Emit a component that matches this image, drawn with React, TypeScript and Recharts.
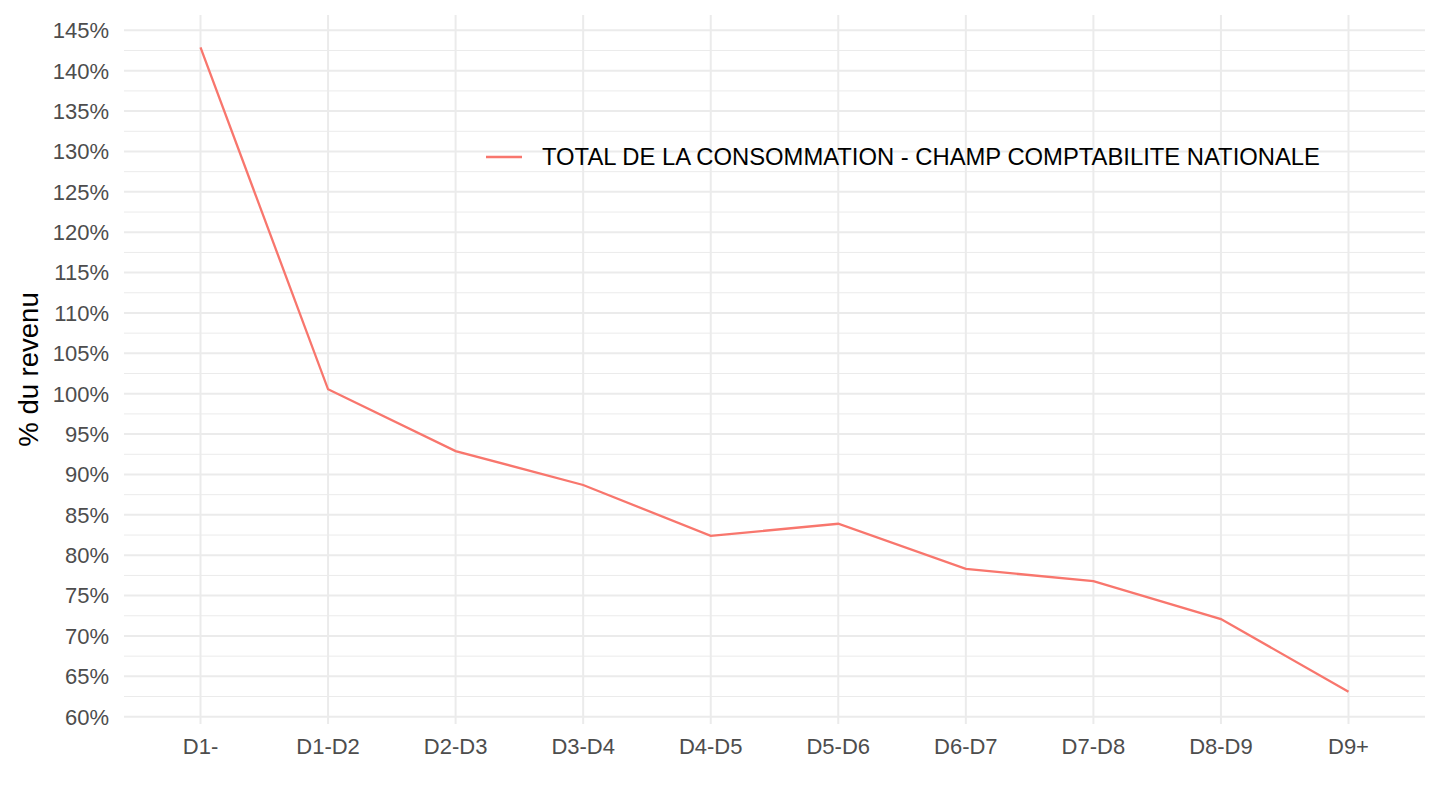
import { CartesianGrid, Legend, Line, LineChart, ReferenceLine, XAxis, YAxis } from "recharts"

const categories = ["D1-", "D1-D2", "D2-D3", "D3-D4", "D4-D5", "D5-D6", "D6-D7", "D7-D8", "D8-D9", "D9+"]
const consommation = [142.9, 100.55, 92.9, 88.7, 82.4, 83.9, 78.3, 76.8, 72.1, 63.1]
const yTicks = [60, 65, 70, 75, 80, 85, 90, 95, 100, 105, 110, 115, 120, 125, 130, 135, 140, 145]
const yMinor = [62.5, 67.5, 72.5, 77.5, 82.5, 87.5, 92.5, 97.5, 102.5, 107.5, 112.5, 117.5, 122.5, 127.5, 132.5, 137.5, 142.5]
const seriesName = "TOTAL DE LA CONSOMMATION - CHAMP COMPTABILITE NATIONALE"

const data = categories.map((c, i) => ({ decile: c, value: consommation[i] }))

const font = "'Liberation Sans', Arial, Helvetica, sans-serif"

function LegendContent(props: any) {
  const items = props.payload || []
  return (
    <div style={{ display: "flex", alignItems: "center", fontFamily: font }}>
      {items.map((it: any) => (
        <div key={it.value} style={{ display: "flex", alignItems: "center" }}>
          <svg width={36} height={4} style={{ marginRight: 20 }}>
            <line x1={0} y1={2} x2={36} y2={2} stroke={it.color} strokeWidth={2.3} />
          </svg>
          <span style={{ fontSize: 23.8, color: "#000", whiteSpace: "nowrap" }}>{it.value}</span>
        </div>
      ))}
    </div>
  )
}

export default function App() {
  return (
    <div style={{ position: "absolute", left: 0, top: 0, width: 1440, height: 810, background: "#fff" }}>
      <LineChart width={1440} height={810} data={data} margin={{ top: 15, right: 15, bottom: 56, left: 0 }}>
        <CartesianGrid stroke="#EBEBEB" strokeWidth={2} syncWithTicks />
        {yMinor.map((v) => (
          <ReferenceLine key={v} y={v} stroke="#EBEBEB" strokeWidth={1} />
        ))}
        <XAxis
          dataKey="decile"
          height={30}
          axisLine={false}
          tickLine={false}
          tickSize={6}
          tickMargin={8}
          padding={{ left: 76.5, right: 76.5 }}
          tick={{ fill: "#4D4D4D", fontSize: 22, fontFamily: font }}
          interval={0}
        />
        <YAxis
          type="number"
          width={124}
          domain={[59.1, 146.9]}
          ticks={yTicks}
          interval={0}
          axisLine={false}
          tickLine={false}
          tickSize={6}
          tickMargin={9}
          tickFormatter={(v) => `${v}%`}
          tick={{ fill: "#4D4D4D", fontSize: 22, fontFamily: font }}
          label={{
            content: (p: any) => {
              const vb = p.viewBox || { x: 0, y: 15, height: 709 }
              const x = vb.x + 38
              const y = vb.y + vb.height / 2
              return (
                <text x={x} y={y} transform={`rotate(-90 ${x} ${y})`} textAnchor="middle" fontSize={27.5} fontFamily={font} fill="#000">
                  % du revenu
                </text>
              )
            },
          }}
        />
        <Legend
          layout="horizontal"
          verticalAlign="middle"
          align="center"
          content={<LegendContent />}
          wrapperStyle={{ top: 143, left: 486, width: "auto" }}
        />
        <Line
          type="linear"
          dataKey="value"
          name={seriesName}
          stroke="#F8766D"
          strokeWidth={2.3}
          dot={false}
          activeDot={false}
          isAnimationActive={false}
        />
      </LineChart>
    </div>
  )
}
